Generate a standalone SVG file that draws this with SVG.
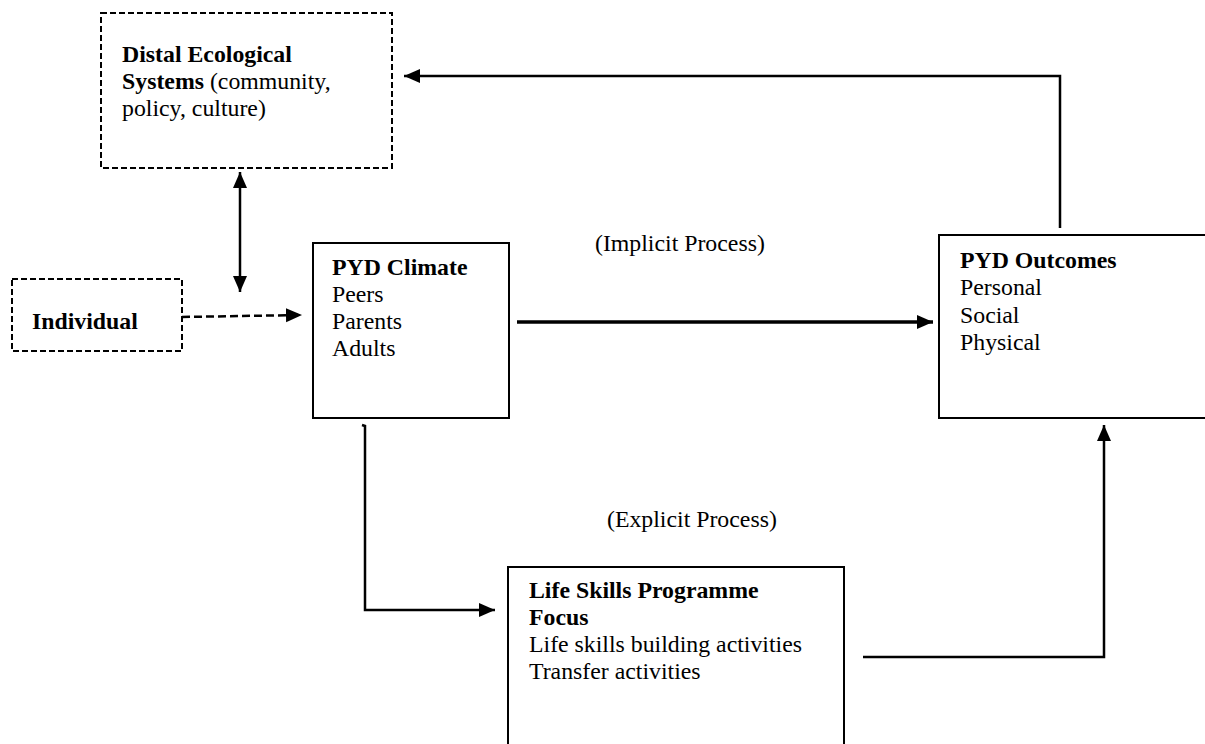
<svg xmlns="http://www.w3.org/2000/svg" width="1205" height="744" viewBox="0 0 1205 744">
  <style>
    text { font-family: "Liberation Serif", "Times New Roman", serif; font-size: 23.8px; fill: #000; }
    .b { font-weight: bold; }
    .box { fill: #fff; stroke: #000; stroke-width: 2; }
    .dbox { fill: #fff; stroke: #000; stroke-width: 2; stroke-dasharray: 6 3; }
    .ln { fill: none; stroke: #000; stroke-width: 2.5; }
    .thick { fill: none; stroke: #000; stroke-width: 3.5; }
    .dash { fill: none; stroke: #000; stroke-width: 2.5; stroke-dasharray: 8 4; }
  </style>
  <defs>
    <marker id="arrow" markerUnits="userSpaceOnUse" markerWidth="16" markerHeight="16" viewBox="0 0 16 16" refX="16" refY="8" orient="auto-start-reverse">
      <path d="M0,1 L16,8 L0,15 Z" fill="#000"/>
    </marker>
  </defs>

  <!-- nodes -->
  <g id="distal">
    <rect class="dbox" x="101" y="13" width="291" height="155"/>
    <text x="122" y="62"><tspan class="b">Distal Ecological</tspan></text>
    <text x="122" y="89"><tspan class="b">Systems</tspan> (community,</text>
    <text x="122" y="116">policy, culture)</text>
  </g>

  <g id="individual">
    <rect class="dbox" x="12" y="279" width="170" height="72"/>
    <text class="b" x="32" y="329">Individual</text>
  </g>

  <g id="climate">
    <rect class="box" x="313" y="243" width="196" height="175"/>
    <text class="b" x="332" y="275">PYD Climate</text>
    <text x="332" y="302">Peers</text>
    <text x="332" y="329">Parents</text>
    <text x="332" y="356">Adults</text>
  </g>

  <g id="outcomes">
    <rect class="box" x="939" y="235" width="300" height="183"/>
    <text class="b" x="960" y="268">PYD Outcomes</text>
    <text x="960" y="295">Personal</text>
    <text x="960" y="323">Social</text>
    <text x="960" y="350">Physical</text>
  </g>

  <g id="lifeskills">
    <rect class="box" x="508" y="567" width="336" height="200"/>
    <text class="b" x="529" y="598">Life Skills Programme</text>
    <text class="b" x="529" y="625">Focus</text>
    <text x="529" y="652">Life skills building activities</text>
    <text x="529" y="679">Transfer activities</text>
  </g>

  <g id="labels">
    <text x="595" y="251">(Implicit Process)</text>
    <text x="607" y="527">(Explicit Process)</text>
  </g>

  <!-- connectors -->
  <g id="connectors">
    <path class="ln" d="M240,172 L240,292" marker-start="url(#arrow)" marker-end="url(#arrow)"/>
    <path class="dash" d="M182,317 L302,315" marker-end="url(#arrow)"/>
    <path class="thick" d="M517,322 L933,322" marker-end="url(#arrow)"/>
    <path class="ln" d="M1060,228 L1060,76 L404,76" marker-end="url(#arrow)"/>
    <path class="ln" d="M362,425 L365,426 L365,610 L495,610" marker-end="url(#arrow)"/>
    <path class="ln" d="M863,657 L1104,657 L1104,425" marker-end="url(#arrow)"/>
  </g>
</svg>
